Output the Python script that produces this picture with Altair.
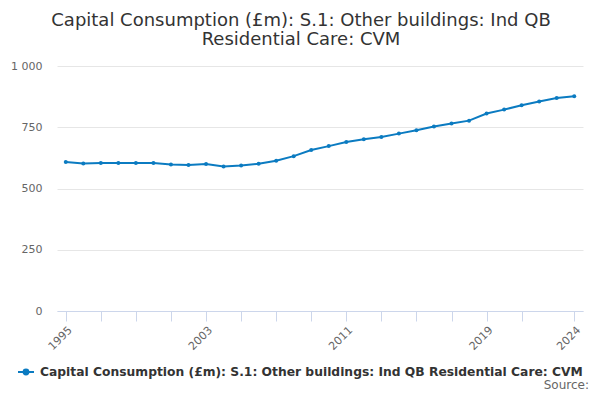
import altair as alt
import pandas as pd

years = list(range(1995, 2025))
values = [608, 602, 604, 604, 604, 604, 598, 596, 600, 590,
          594, 601, 613, 632, 657, 673, 690, 701, 710, 724,
          738, 753, 765, 777, 806, 822, 840, 855, 869, 877]
series_name = "Capital Consumption (£m): S.1: Other buildings: Ind QB Residential Care: CVM"
title_lines = ["Capital Consumption (£m): S.1: Other buildings: Ind QB", "Residential Care: CVM"]
x_ticks = list(range(1995, 2022, 2)) + [2024]
x_labels = [1995, 2003, 2011, 2019, 2024]
y_ticks = [0, 250, 500, 750, 1000]

COLOR = "#0b7bc1"
FONT = "DejaVu Sans"

df = pd.DataFrame({"year": years, "value": values, "series": series_name})

label_test = " || ".join(f"datum.value == {v}" for v in x_labels)

base = alt.Chart(df).encode(
    x=alt.X("year:Q",
            scale=alt.Scale(domain=[1994.5, 2024.5], nice=False, zero=False),
            axis=alt.Axis(values=x_ticks, title=None, grid=False,
                          labelExpr=f"({label_test}) ? datum.value : ''",
                          labelAngle=-45, labelAlign="right", labelBaseline="top",
                          labelFontSize=11, labelColor="#666666", labelFont=FONT,
                          labelPadding=3, labelOverlap=False, labelBound=False,
                          domainColor="#ccd6eb", tickColor="#ccd6eb", tickSize=10,
                          labelFlush=False)),
    y=alt.Y("value:Q",
            scale=alt.Scale(domain=[0, 1000], nice=False),
            axis=alt.Axis(values=y_ticks, title=None, ticks=False, domain=False,
                          gridColor="#e6e6e6", labelFontSize=11, labelColor="#666666",
                          labelFont=FONT, labelPadding=15,
                          labelExpr="replace(format(datum.value, ','), ',', ' ')")),
    color=alt.Color("series:N",
                    scale=alt.Scale(range=[COLOR]),
                    legend=alt.Legend(title=None, orient="none", legendX=-40, legendY=297,
                                      direction="horizontal", padding=0,
                                      symbolType="M-1,0L1,0M-0.3,0a0.3,0.3 0 1,0 0.6,0a0.3,0.3 0 1,0 -0.6,0",
                                      symbolSize=256, symbolStrokeWidth=2,
                                      symbolFillColor=COLOR, symbolStrokeColor=COLOR,
                                      labelFont=FONT, labelFontSize=12.3, labelFontWeight="bold",
                                      labelColor="#333333", labelLimit=0, labelOffset=5)),
)

line = base.mark_line(strokeWidth=2)
points = base.mark_point(filled=True, size=16, opacity=1)

source = alt.Chart(pd.DataFrame({"t": ["Source:"]})).mark_text(
    align="right", baseline="middle", fontSize=12, color="#666666", font=FONT
).encode(text="t:N", x=alt.value(532), y=alt.value(319))

chart = alt.layer(line, points, source).properties(
    width=526, height=245,
    title=alt.TitleParams(title_lines, anchor="middle", fontSize=18, font=FONT,
                          fontWeight="normal", color="#333333", dx=-19, lineHeight=19,
                          offset=11),
    autosize=alt.AutoSizeParams(type="none"),
    padding={"left": 49, "top": 58, "right": 8, "bottom": 81},
).configure_view(stroke=None)

chart.save("out.html", embed_options={"renderer": "svg", "actions": False})
